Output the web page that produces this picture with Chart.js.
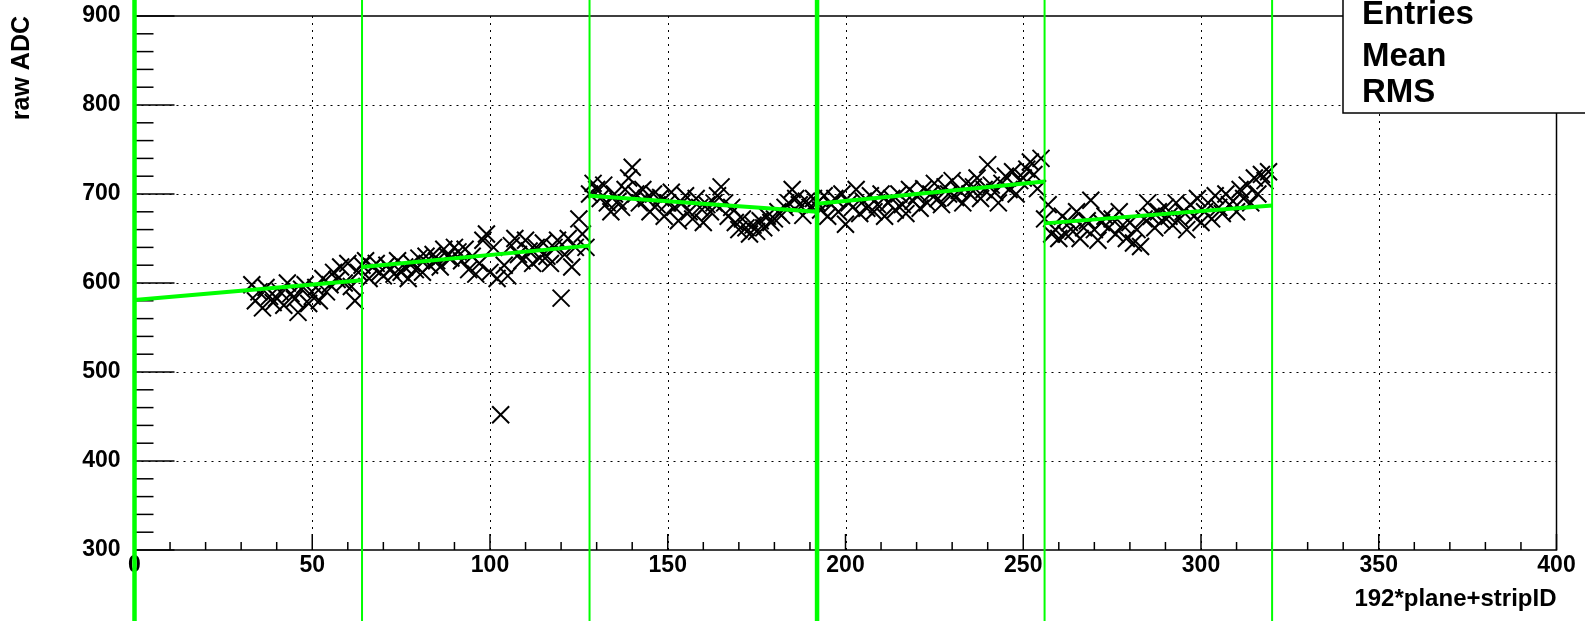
<!DOCTYPE html>
<html>
<head>
<meta charset="utf-8">
<title>raw ADC vs 192*plane+stripID</title>
<script src="https://cdn.jsdelivr.net/npm/chart.js@4/dist/chart.umd.min.js"></script>
<style>
  html, body { margin: 0; padding: 0; background: #fff; }
  #wrap { width: 1585px; height: 621px; position: relative; }
</style>
</head>
<body>
<div id="wrap"><canvas id="adcChart"></canvas></div>
<script>
"use strict";

/* ---------- data ---------- */

const xTicks = [0, 50, 100, 150, 200, 250, 300, 350, 400];
const yTicks = [300, 400, 500, 600, 700, 800, 900];

const xTitle = "192*plane+stripID";
const yTitle = "raw ADC";
const statLabels = ["Entries", "Mean", "RMS"];

// first strip with a measurement
const firstStrip = 33;

// raw ADC per strip (strips 33..63)
const adcSegA = [598, 580, 590, 572, 595, 585, 578, 583, 590, 575, 600, 588, 582, 567, 593, 598,
                 577, 585, 595, 580, 605, 590, 598, 612, 604, 618, 600, 622, 596, 580, 612];
// strips 64..127
const adcSegB = [620, 625, 605, 618, 622, 612, 608, 620, 615, 610, 625, 612, 618, 605, 622, 615,
                 628, 612, 630, 620, 632, 625, 618, 638, 630, 628, 640, 635, 625, 638, 615, 630,
                 610, 622, 648, 655, 612, 640, 605, 452, 620, 608, 642, 650, 632, 625, 648, 636,
                 622, 640, 628, 645, 630, 622, 640, 648, 583, 632, 650, 618, 640, 672, 655, 640];
// strips 128..191
const adcSegC = [700, 712, 705, 695, 710, 690, 680, 700, 692, 685, 705, 718, 730, 700, 690, 705,
                 695, 680, 700, 688, 696, 675, 690, 702, 685, 670, 690, 698, 680, 672, 695, 685,
                 668, 688, 680, 690, 698, 708, 690, 675, 685, 668, 660, 672, 662, 655, 665, 658,
                 670, 662, 675, 668, 672, 680, 676, 685, 690, 705, 695, 688, 676, 692, 685, 695];
// strips 192..255
const adcSegD = [690, 682, 698, 675, 688, 695, 680, 700, 666, 690, 685, 705, 678, 692, 684, 698,
                 680, 688, 700, 675, 690, 695, 682, 700, 688, 678, 705, 692, 698, 684, 706, 690,
                 700, 712, 695, 688, 708, 700, 715, 696, 704, 690, 712, 700, 708, 718, 695, 705,
                 733, 710, 702, 690, 712, 720, 705, 725, 700, 715, 718, 728, 736, 722, 706, 740];
// strips 256..319
const adcSegE = [672, 688, 655, 660, 650, 675, 655, 668, 658, 680, 650, 662, 670, 693, 660, 648,
                 668, 675, 662, 672, 655, 680, 665, 650, 668, 645, 660, 641, 672, 690, 675, 662,
                 680, 670, 685, 675, 665, 690, 672, 680, 660, 688, 675, 695, 668, 680, 690, 672,
                 698, 685, 678, 700, 688, 692, 680, 705, 695, 710, 690, 718, 700, 722, 715, 725];

// per-plane linear fits: boundaries and the fitted value at each end
const fitBounds = [0, 64, 128, 192, 256, 320];
const fitStart  = [581, 618, 698, 689, 667];
const fitEnd    = [603, 642, 680, 714, 687];

/* ---------- build datasets ---------- */

const adcValues = [...adcSegA, ...adcSegB, ...adcSegC, ...adcSegD, ...adcSegE];
const points = adcValues.map((v, i) => ({ x: firstStrip + i, y: v }));

const GREEN = "#00ff00";
const FONT = "'Liberation Sans', Arial, Helvetica, sans-serif";

const fitSets = fitStart.map((s, i) => ({
  type: "line",
  data: [{ x: fitBounds[i], y: s }, { x: fitBounds[i + 1], y: fitEnd[i] }],
  borderColor: GREEN,
  borderWidth: 4,
  pointRadius: 0,
  fill: false,
  order: 0
}));

/* ---------- ROOT-style frame, grid, ticks, boundaries, stats box ---------- */

function seg(ctx, x1, y1, x2, y2) {
  ctx.beginPath();
  ctx.moveTo(x1, y1);
  ctx.lineTo(x2, y2);
  ctx.stroke();
}

const rootFrame = {
  id: "rootFrame",
  beforeDatasetsDraw(chart) {
    const { ctx, chartArea: a, scales: { x, y } } = chart;
    ctx.save();
    ctx.strokeStyle = "#000";

    // dotted grid at the inner major ticks
    ctx.lineWidth = 1;
    ctx.setLineDash([2, 5]);
    xTicks.slice(1, -1).forEach(v => {
      const px = Math.round(x.getPixelForValue(v)) + 0.5;
      seg(ctx, px, a.top, px, a.bottom);
    });
    yTicks.slice(1, -1).forEach(v => {
      const py = Math.round(y.getPixelForValue(v)) + 0.5;
      seg(ctx, a.left, py, a.right, py);
    });
    ctx.setLineDash([]);

    // frame
    ctx.lineWidth = 1.5;
    ctx.strokeRect(a.left, a.top, a.right - a.left, a.bottom - a.top);

    // ticks point inwards
    for (let v = xTicks[0]; v <= xTicks[xTicks.length - 1]; v += 10) {
      const px = x.getPixelForValue(v);
      const len = v % 50 === 0 ? 16 : 8;
      seg(ctx, px, a.bottom, px, a.bottom - len);
    }
    for (let v = yTicks[0]; v <= yTicks[yTicks.length - 1]; v += 20) {
      const py = y.getPixelForValue(v);
      const len = v % 100 === 0 ? 40 : 19;
      seg(ctx, a.left, py, a.left + len, py);
    }
    ctx.restore();
  },
  afterDatasetsDraw(chart) {
    const { ctx, scales: { x } } = chart;
    ctx.save();

    // plane boundaries run across the whole canvas
    ctx.strokeStyle = GREEN;
    fitBounds.forEach(b => {
      ctx.lineWidth = b % 192 === 0 ? 4.5 : 2;
      const px = x.getPixelForValue(b);
      seg(ctx, px, 0, px, chart.height);
    });

    // stats box (values cut off in the original)
    const bx = 1343, by = 113;
    ctx.fillStyle = "#fff";
    ctx.fillRect(bx, -2, chart.width - bx + 2, by + 2);
    ctx.strokeStyle = "#000";
    ctx.lineWidth = 1.5;
    ctx.strokeRect(bx, -2, chart.width - bx + 10, by + 2);

    ctx.fillStyle = "#000";
    ctx.font = "bold 33px " + FONT;
    ctx.textAlign = "left";
    ctx.textBaseline = "middle";
    const rowY = [15, 57, 93];
    statLabels.forEach((t, i) => ctx.fillText(t, 1362, rowY[i]));
    ctx.restore();
  }
};

/* ---------- chart ---------- */

Chart.defaults.font.family = FONT;
Chart.defaults.color = "#000";

// keep the plot frame where the original has it, whatever the label overhang
function pinAxis(size, key) {
  return s => {
    s[key] = size;
    s.paddingTop = 0;
    s.paddingBottom = 0;
    s.paddingLeft = 0;
    s.paddingRight = 0;
  };
}

new Chart(document.getElementById("adcChart"), {
  type: "scatter",
  data: {
    datasets: [
      ...fitSets,
      {
        label: "raw ADC",
        data: points,
        pointStyle: "crossRot",
        pointRadius: 12,
        borderColor: "#000",
        backgroundColor: "#000",
        borderWidth: 2,
        order: 1
      }
    ]
  },
  options: {
    responsive: true,
    maintainAspectRatio: false,
    animation: false,
    events: [],
    layout: { padding: { top: 16, right: 28.5, left: 0, bottom: 0 } },
    plugins: {
      legend: { display: false },
      tooltip: { enabled: false }
    },
    scales: {
      x: {
        type: "linear",
        min: xTicks[0],
        max: xTicks[xTicks.length - 1],
        afterBuildTicks: s => { s.ticks = xTicks.map(v => ({ value: v })); },
        afterFit: pinAxis(71, "height"),
        grid: { display: false, drawTicks: false },
        border: { display: false },
        ticks: {
          autoSkip: false,
          maxRotation: 0,
          padding: 2,
          font: { size: 23, weight: "bold" }
        },
        title: {
          display: true,
          text: xTitle,
          align: "end",
          font: { size: 24, weight: "bold" },
          padding: { top: 0, bottom: 7 }
        }
      },
      y: {
        type: "linear",
        min: yTicks[0],
        max: yTicks[yTicks.length - 1],
        afterBuildTicks: s => { s.ticks = yTicks.map(v => ({ value: v })); },
        afterFit: pinAxis(134.5, "width"),
        grid: { display: false, drawTicks: false },
        border: { display: false },
        ticks: {
          autoSkip: false,
          padding: 14,
          font: { size: 23, weight: "bold" }
        },
        title: {
          display: true,
          text: yTitle,
          align: "end",
          font: { size: 25, weight: "bold" },
          padding: { top: 7, bottom: 0 }
        }
      }
    }
  },
  plugins: [rootFrame]
});
</script>
</body>
</html>
